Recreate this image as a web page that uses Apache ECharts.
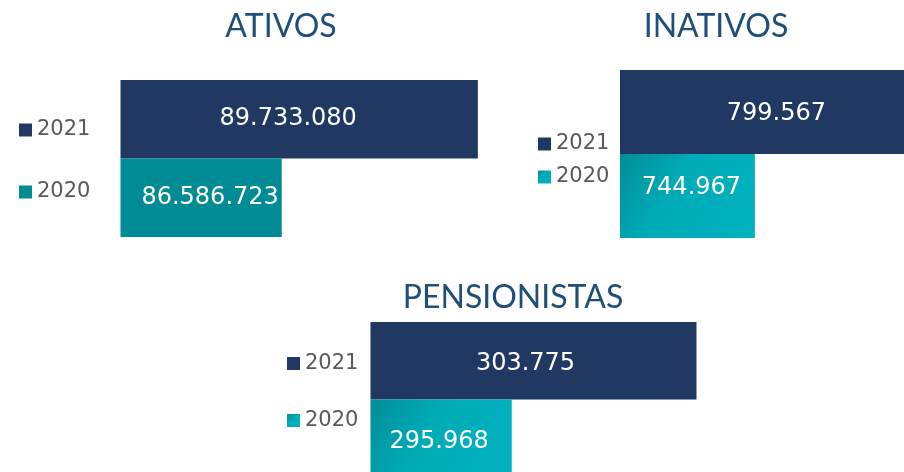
<!DOCTYPE html>
<html>
<head>
<meta charset="utf-8">
<script src="https://cdn.jsdelivr.net/npm/echarts@6/dist/echarts.min.js"></script>
<style>
  html, body { margin: 0; padding: 0; background: #ffffff; }
  #chart { width: 904px; height: 472px; }
</style>
</head>
<body>
<div id="chart"></div>
<script>
// Categories (bottom to top on each y axis) and values per panel
const years = ['2020', '2021'];
const panelTitles = ['ATIVOS', 'INATIVOS', 'PENSIONISTAS'];
const ativos = [86586723, 89733080];
const inativos = [744967, 799567];
const pensionistas = [295968, 303775];

// Value-axis ranges (axes are truncated, as in the original charts)
const axisMin = [84000000, 700000, 290000];
const axisMax = [90000000, 820000, 305000];

const NAVY = '#213863';
const TEAL_FLAT = '#008b95';
const tealGradient = () => new echarts.graphic.LinearGradient(0, 0, 1, 1, [
  { offset: 0, color: '#008e98' },
  { offset: 0.4, color: '#00abb7' },
  { offset: 1, color: '#00b3bf' }
]);

// Layout of the three small charts (the right and bottom ones run past the page edge)
const panels = [
  { values: ativos, grid: { left: 120.5, top: 80, width: 374, height: 157 },
    title: { x: 281, y: 11 }, legend: { left: 19, top: 117, gap: 36 },
    color2020: () => TEAL_FLAT, off2021: [-11, 0], off2020: [9, 0] },
  { values: inativos, grid: { left: 620, top: 70, width: 360, height: 168 },
    title: { x: 716, y: 11 }, legend: { left: 538, top: 131, gap: 7 },
    color2020: tealGradient, off2021: [7, 2], off2020: [4, -8] },
  { values: pensionistas, grid: { left: 370.5, top: 322, width: 355, height: 155 },
    title: { x: 513, y: 282 }, legend: { left: 287, top: 350.5, gap: 31 },
    color2020: tealGradient, off2021: [-8, 3], off2020: [-2, 4] }
];

const fmt = v => String(v).replace(/\B(?=(\d{3})+(?!\d))/g, '.');

const option = {
  animation: false,
  backgroundColor: '#ffffff',
  title: [], legend: [], grid: [], xAxis: [], yAxis: [], series: []
};

panels.forEach((p, i) => {
  option.title.push({
    text: panelTitles[i], left: p.title.x, top: p.title.y, textAlign: 'center', padding: 0,
    textStyle: { fontFamily: 'Lato', fontSize: 32, fontWeight: 'normal', color: '#1f4e79' }
  });
  option.grid.push(Object.assign({ containLabel: false, outerBoundsMode: 'none' }, p.grid));
  option.xAxis.push({
    type: 'value', gridIndex: i, min: axisMin[i], max: axisMax[i], show: false,
    splitLine: { show: false }
  });
  option.yAxis.push({
    type: 'category', gridIndex: i, data: years, show: false,
    axisTick: { show: false }, axisLine: { show: false }
  });
  const c2020 = p.color2020();
  option.legend.push({
    orient: 'vertical', left: p.legend.left, top: p.legend.top, padding: 0,
    itemGap: p.legend.gap, itemWidth: 13, itemHeight: 13, icon: 'rect',
    selectedMode: false,
    textStyle: { fontFamily: 'DejaVu Sans', fontSize: 21, color: '#595959', lineHeight: 26 },
    data: [
      { name: '2021', itemStyle: { color: NAVY } },
      { name: '2020', itemStyle: { color: c2020 } }
    ]
  });
  const labelBase = {
    show: true, position: 'inside', color: '#ffffff',
    fontFamily: 'DejaVu Sans', fontSize: 24, formatter: d => fmt(d.value)
  };
  option.series.push({
    name: '2021', type: 'bar', xAxisIndex: i, yAxisIndex: i,
    barGap: '-100%', barCategoryGap: '0%',
    data: ['-', p.values[1]],
    itemStyle: { color: NAVY },
    label: Object.assign({}, labelBase, { offset: p.off2021 })
  });
  option.series.push({
    name: '2020', type: 'bar', xAxisIndex: i, yAxisIndex: i,
    barGap: '-100%', barCategoryGap: '0%',
    data: [p.values[0], '-'],
    itemStyle: { color: c2020 },
    label: Object.assign({}, labelBase, { offset: p.off2020 })
  });
});

const chart = echarts.init(document.getElementById('chart'), null, { renderer: 'canvas' });
chart.setOption(option);
</script>
</body>
</html>
